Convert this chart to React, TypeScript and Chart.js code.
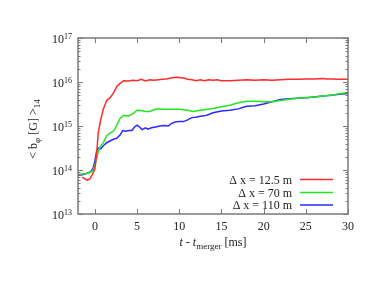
import React, { useEffect, useRef } from "react";
import { Chart, registerables } from "chart.js";

Chart.register(...registerables);

// time after merger [ms]
const redT = [-1.5, -1.2, -0.9, -0.6, -0.3, 0, 0.2, 0.4, 0.7, 1.0, 1.4, 1.8, 2.2, 2.6, 3.0, 3.4, 4.0, 4.5, 5.0, 5.5, 6.0, 6.5, 7.0, 7.5, 8.0, 8.5, 9.0, 9.7, 10.5, 11.0, 11.5, 12.0, 12.5, 13.0, 13.5, 14.0, 14.5, 15.0, 16, 17, 18, 19, 20, 21, 22, 23, 24, 25, 26, 27, 27.5, 28, 29, 30];
const redV = [6.9e13, 6.3e13, 5.9e13, 6.3e13, 7.9e13, 1.05e14, 2.2e14, 7.1e14, 1.41e15, 2.4e15, 3.8e15, 4.4e15, 5.6e15, 7.9e15, 9.3e15, 1.07e16, 1.05e16, 1.1e16, 1.07e16, 1.15e16, 1.05e16, 1.12e16, 1.1e16, 1.12e16, 1.15e16, 1.17e16, 1.23e16, 1.29e16, 1.23e16, 1.15e16, 1.12e16, 1.07e16, 1.12e16, 1.07e16, 1.12e16, 1.1e16, 1.12e16, 1.07e16, 1.07e16, 1.1e16, 1.12e16, 1.1e16, 1.12e16, 1.1e16, 1.12e16, 1.15e16, 1.15e16, 1.17e16, 1.17e16, 1.2e16, 1.17e16, 1.17e16, 1.15e16, 1.15e16];

const greenT = [-2, -1.5, -1, -0.5, -0.2, 0, 0.3, 0.6, 1.0, 1.4, 1.8, 2.2, 2.6, 3.0, 3.4, 4.0, 4.5, 5.0, 5.5, 6.0, 6.5, 7.0, 7.5, 8, 9, 10, 11, 11.6, 12.5, 14, 15, 16, 17, 18, 19, 20, 21, 22, 23, 24, 25, 26, 27, 28, 29, 30];
const greenV = [7.9e13, 8.1e13, 8.3e13, 8.9e13, 1.0e14, 1.26e14, 2.24e14, 3.3e14, 4.2e14, 6.0e14, 6.9e14, 7.6e14, 1.05e15, 1.51e15, 1.74e15, 1.7e15, 1.9e15, 2.29e15, 2.24e15, 2.14e15, 2.14e15, 2.34e15, 2.45e15, 2.4e15, 2.4e15, 2.4e15, 2.29e15, 2.14e15, 2.29e15, 2.51e15, 2.75e15, 2.95e15, 3.39e15, 3.63e15, 3.63e15, 3.55e15, 3.55e15, 3.8e15, 4.07e15, 4.27e15, 4.4e15, 4.57e15, 4.8e15, 5.0e15, 5.4e15, 5.75e15];

const blueT = [-2, -1.5, -1, -0.5, -0.2, 0, 0.2, 0.4, 0.7, 1.0, 1.4, 1.8, 2.2, 2.6, 3.0, 3.3, 3.7, 4.0, 4.4, 4.7, 5.0, 5.3, 5.6, 6.0, 6.3, 6.7, 7.2, 7.7, 8.2, 8.7, 9.0, 9.5, 10, 10.5, 11, 11.5, 12, 12.5, 13, 13.5, 14, 15, 16, 17, 17.5, 18, 19, 20, 21, 22, 23, 24, 25, 26, 27, 28, 29, 30];
const blueV = [7.6e13, 7.8e13, 8.3e13, 9.1e13, 1.12e14, 1.58e14, 2.63e14, 3.16e14, 3.02e14, 3.55e14, 4.17e14, 4.57e14, 5.0e14, 5.25e14, 6.3e14, 7.9e14, 7.6e14, 7.9e14, 7.9e14, 9.5e14, 1.05e15, 9.5e14, 8.3e14, 9.1e14, 8.5e14, 9.1e14, 9.5e14, 1.0e15, 1.02e15, 1.0e15, 1.12e15, 1.23e15, 1.26e15, 1.26e15, 1.38e15, 1.55e15, 1.58e15, 1.66e15, 1.7e15, 1.82e15, 2.0e15, 2.19e15, 2.29e15, 2.45e15, 2.63e15, 2.82e15, 2.88e15, 3.16e15, 3.55e15, 3.98e15, 4.17e15, 4.27e15, 4.37e15, 4.57e15, 4.8e15, 5.0e15, 5.25e15, 5.5e15];

const seriesLabels = ["\u0394 x = 12.5 m", "\u0394 x = 70 m", "\u0394 x = 110 m"];
const seriesColors = ["#ff2a2a", "#22e622", "#2a2aff"];

const xTicks = [0, 5, 10, 15, 20, 25, 30];
const yExponents = [13, 14, 15, 16, 17];
const yMinorMultipliers = [2, 3, 4, 5, 6, 7, 8, 9];

const FONT = '"Liberation Serif", "Times New Roman", Times, serif';
const FRAME = "#7a7a7a";
const TEXT = "#222";

const decorPlugin = {
  id: "decor",
  afterDatasetsDraw(chart: any) {
    const ctx = chart.ctx as CanvasRenderingContext2D;
    const { left, right, top, bottom } = chart.chartArea;
    const xs = chart.scales.x;
    const ys = chart.scales.y;
    ctx.save();
    // frame
    ctx.strokeStyle = FRAME;
    ctx.lineWidth = 1.5;
    ctx.strokeRect(left, top, right - left, bottom - top);
    // x ticks
    ctx.lineWidth = 1;
    ctx.beginPath();
    xTicks.forEach((v) => {
      const px = Math.round(xs.getPixelForValue(v)) + 0.5;
      ctx.moveTo(px, bottom);
      ctx.lineTo(px, bottom - 5);
      ctx.moveTo(px, top);
      ctx.lineTo(px, top + 5);
    });
    // y ticks
    yExponents.forEach((e) => {
      const py = Math.round(ys.getPixelForValue(Math.pow(10, e))) + 0.5;
      ctx.moveTo(left, py);
      ctx.lineTo(left + 5, py);
      ctx.moveTo(right, py);
      ctx.lineTo(right - 5, py);
      if (e < 17) {
        yMinorMultipliers.forEach((m) => {
          const pm = Math.round(ys.getPixelForValue(m * Math.pow(10, e))) + 0.5;
          ctx.moveTo(left, pm);
          ctx.lineTo(left + 2.5, pm);
          ctx.moveTo(right, pm);
          ctx.lineTo(right - 2.5, pm);
        });
      }
    });
    ctx.stroke();

    // x tick labels
    ctx.fillStyle = TEXT;
    ctx.font = `12px ${FONT}`;
    ctx.textAlign = "center";
    ctx.textBaseline = "alphabetic";
    xTicks.forEach((v) => {
      ctx.fillText(String(v), xs.getPixelForValue(v), bottom + 16);
    });
    // y tick labels 10^e
    yExponents.forEach((e) => {
      const py = ys.getPixelForValue(Math.pow(10, e));
      ctx.font = `8px ${FONT}`;
      const sw = ctx.measureText(String(e)).width;
      ctx.textAlign = "left";
      ctx.fillText(String(e), 72 - sw, py + 0.5);
      ctx.font = `12px ${FONT}`;
      ctx.textAlign = "right";
      ctx.fillText("10", 72 - sw, py + 4.5);
    });

    const drawParts = (ps: [string, string, number][], cx: number, baseY: number) => {
      let total = 0;
      ps.forEach(([s, f]) => {
        ctx.font = f;
        total += ctx.measureText(s).width;
      });
      let x = cx - total / 2;
      ctx.textAlign = "left";
      ps.forEach(([s, f, dy]) => {
        ctx.font = f;
        ctx.fillText(s, x, baseY + dy);
        x += ctx.measureText(s).width;
      });
    };
    // x title: t - t_merger [ms]
    drawParts(
      [
        ["t", `italic 12px ${FONT}`, 0],
        [" - ", `12px ${FONT}`, 0],
        ["t", `italic 12px ${FONT}`, 0],
        ["merger", `9px ${FONT}`, 3],
        [" [ms]", `12px ${FONT}`, 0],
      ],
      (left + right) / 2,
      246
    );

    // y title: < b_phi [G] >_14
    ctx.save();
    ctx.translate(37, 129);
    ctx.rotate(-Math.PI / 2);
    drawParts(
      [
        ["< b", `12px ${FONT}`, 0],
        ["\u03c6", `9px ${FONT}`, 3],
        [" [G] >", `12px ${FONT}`, 0],
        ["14", `9px ${FONT}`, 3],
      ],
      0,
      0
    );
    ctx.restore();

    // legend
    const legY = [179.5, 192.5, 205];
    seriesLabels.forEach((lab, i) => {
      ctx.font = `12px ${FONT}`;
      ctx.textAlign = "right";
      ctx.fillStyle = TEXT;
      ctx.fillText(lab, 292, legY[i] + 4);
      ctx.strokeStyle = seriesColors[i];
      ctx.lineWidth = 1.5;
      ctx.beginPath();
      ctx.moveTo(300, legY[i]);
      ctx.lineTo(333, legY[i]);
      ctx.stroke();
    });
    ctx.restore();
  },
};

export default function App() {
  const ref = useRef<HTMLCanvasElement | null>(null);
  useEffect(() => {
    if (!ref.current) return;
    const mk = (ts: number[], vs: number[]) => ts.map((t, i) => ({ x: t, y: vs[i] }));
    const chart = new Chart(ref.current, {
      type: "line",
      data: {
        datasets: [
          { label: seriesLabels[0], data: mk(redT, redV), borderColor: seriesColors[0] },
          { label: seriesLabels[1], data: mk(greenT, greenV), borderColor: seriesColors[1] },
          { label: seriesLabels[2], data: mk(blueT, blueV), borderColor: seriesColors[2] },
        ].map((d) => ({ ...d, borderWidth: 1.5, pointRadius: 0, tension: 0, fill: false })),
      },
      options: {
        animation: false,
        responsive: false,
        devicePixelRatio: 1,
        layout: { padding: { left: 78, right: 34, top: 38, bottom: 81 } },
        plugins: { legend: { display: false }, tooltip: { enabled: false } },
        scales: {
          x: { type: "linear", min: -2, max: 30, display: false },
          y: { type: "logarithmic", min: 1e13, max: 1e17, display: false },
        },
      },
      plugins: [decorPlugin],
    });
    return () => chart.destroy();
  }, []);
  return (
    <div style={{ position: "absolute", left: 0, top: 0, width: 382, height: 295, background: "#fff" }}>
      <canvas ref={ref} width={382} height={295} />
    </div>
  );
}
